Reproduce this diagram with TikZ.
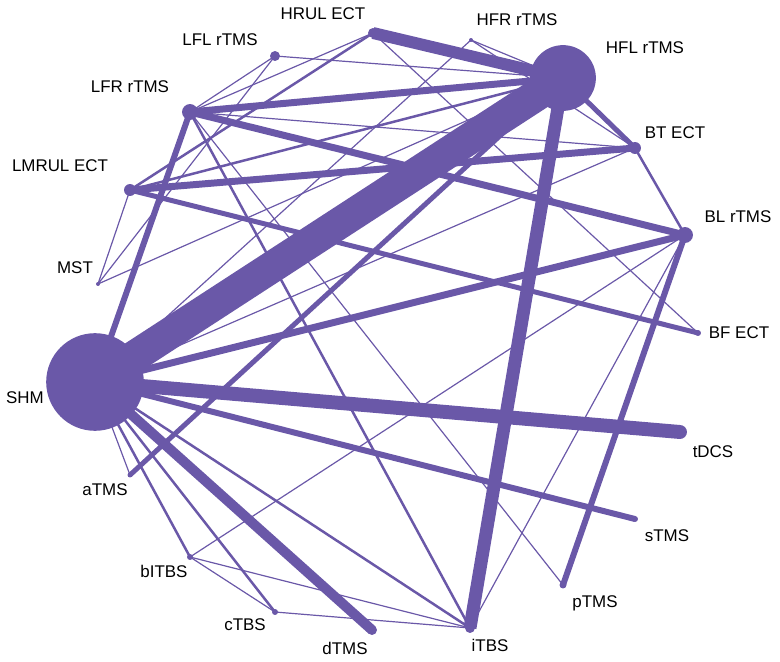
\documentclass[tikz,border=0pt]{standalone}
\usepackage{fontspec}
\setmainfont{Liberation Sans}
\definecolor{net}{HTML}{6A58A8}
\begin{document}
\begin{tikzpicture}[x=1bp,y=-1bp,
  vert/.style={circle,fill=net,inner sep=0pt,minimum size=#1},
  edge/.style={draw=net,line width=#1},
  lab/.style={font=\fontsize{17}{19}\selectfont,text=black,inner sep=0pt}]
\useasboundingbox (0,0) rectangle (780,662);
% vertices
\path (373,33) coordinate (HRUL) (471,40) coordinate (HFR) (563,78) coordinate (HFL)
 (275,56) coordinate (LFL) (190,112) coordinate (LFR) (635,148) coordinate (BT)
 (130,190) coordinate (LMRUL) (685,235) coordinate (BL) (98,284) coordinate (MST)
 (698,333) coordinate (BF) (95,382) coordinate (SHM) (680,432) coordinate (tDCS)
 (130,475) coordinate (aTMS) (635,519) coordinate (sTMS) (190,557) coordinate (bITBS)
 (563,585) coordinate (pTMS) (275,612) coordinate (cTBS) (372,630) coordinate (dTMS)
 (470,628) coordinate (iTBS);
% thin edges
\foreach \a/\b in {LFL/HFL,LFL/LFR,LFL/MST,MST/LMRUL,MST/HFL,HFR/HFL,HFR/BT,HFR/SHM,
  SHM/aTMS,bITBS/iTBS,cTBS/iTBS,bITBS/cTBS,bITBS/BL,LFR/pTMS,SHM/BT,HRUL/BF,LFR/BT,
  BL/iTBS,HRUL/LFR}
  \draw[edge=1.2] (\a) -- (\b);
\foreach \a/\b in {SHM/bITBS,SHM/cTBS,SHM/iTBS,LMRUL/HFL,HRUL/LMRUL,BT/BL,LFR/iTBS}
  \draw[edge=2.5] (\a) -- (\b);
% medium/thick
\draw[edge=5] (LMRUL) -- (BF);
\draw[edge=5] (HFL) -- (BT);
\draw[edge=5] (aTMS) -- (HFL);
\draw[edge=6] (BL) -- (pTMS);
\draw[edge=6] (SHM) -- (sTMS);
\draw[edge=6] (SHM) -- (LFR);
\draw[edge=7] (SHM) -- (BL);
\draw[edge=7] (LFR) -- (HFL);
\draw[edge=7] (LFR) -- (BL);
\draw[edge=7] (LMRUL) -- (BT);
\draw[edge=10] (SHM) -- (dTMS);
\draw[edge=12] (HRUL) -- (HFL);
\draw[edge=13] (iTBS) -- (HFL);
\draw[edge=14] (SHM) -- (tDCS);
\draw[edge=32] (SHM) -- (HFL);
% vertex discs
\foreach \n/\s in {HRUL/10,HFR/4,HFL/66,LFL/10,LFR/16,BT/12,LMRUL/12,BL/16,MST/4,BF/6,
  SHM/98,tDCS/14,aTMS/5,sTMS/6,bITBS/6,pTMS/7,cTBS/6,dTMS/10,iTBS/10}
  \node[vert=\s pt] (n\n) at (\n) {};
% labels
\node[lab] (tHRUL) at (323,14) {HRUL ECT};
\node[lab] (tLFL) at (220,40) {LFL rTMS};
\node[lab] (tHFR) at (517,20) {HFR rTMS};
\node[lab] (tHFL) at (645,48) {HFL rTMS};
\node[lab] (tLFR) at (130,87) {LFR rTMS};
\node[lab] (tBT) at (675,133) {BT ECT};
\node[lab] (tLMRUL) at (60,166) {LMRUL ECT};
\node[lab] (tBL) at (738,217) {BL rTMS};
\node[lab] (tMST) at (75,268) {MST};
\node[lab] (tBF) at (739,333) {BF ECT};
\node[lab] (tSHM) at (25,398) {SHM};
\node[lab] (ttDCS) at (713,452) {tDCS};
\node[lab] (taTMS) at (105,490) {aTMS};
\node[lab] (tsTMS) at (667,536) {sTMS};
\node[lab] (tbITBS) at (164,571) {bITBS};
\node[lab] (tpTMS) at (595,603) {pTMS};
\node[lab] (tcTBS) at (245,625) {cTBS};
\node[lab] (tdTMS) at (345,648) {dTMS};
\node[lab] (tiTBS) at (490,645) {iTBS};
\end{tikzpicture}
\end{document}
